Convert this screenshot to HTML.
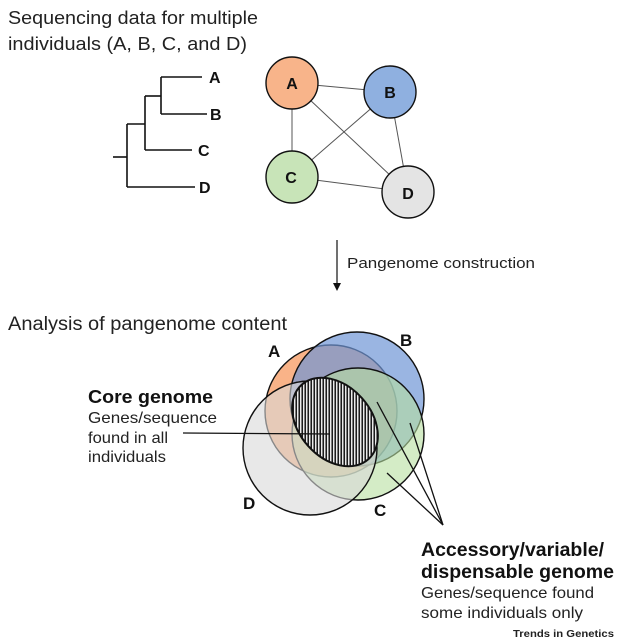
<!DOCTYPE html>
<html><head><meta charset="utf-8"><style>
body{margin:0;background:#fff;}
svg{display:block;font-family:"Liberation Sans",Arial,sans-serif;}
</style></head><body>
<svg width="629" height="643" viewBox="0 0 629 643" xmlns="http://www.w3.org/2000/svg">
<defs>
<pattern id="hatch" width="3" height="4" patternUnits="userSpaceOnUse" patternTransform="rotate(-48)">
<rect width="3" height="4" fill="#fff"/><rect width="1.6" height="4" fill="#111"/>
</pattern>
</defs>
<text x="8" y="24" font-size="18" fill="#222" textLength="250" lengthAdjust="spacingAndGlyphs">Sequencing data for multiple</text>
<text x="8" y="50" font-size="18" fill="#222" textLength="239" lengthAdjust="spacingAndGlyphs">individuals (A, B, C, and D)</text>
<g stroke="#111" stroke-width="1.6" fill="none">
<line x1="113" y1="157" x2="127" y2="157"/>
<line x1="127" y1="124" x2="127" y2="187"/>
<line x1="127" y1="187" x2="195" y2="187"/>
<line x1="127" y1="124" x2="145" y2="124"/>
<line x1="145" y1="96" x2="145" y2="150"/>
<line x1="145" y1="150" x2="192" y2="150"/>
<line x1="145" y1="96" x2="161" y2="96"/>
<line x1="161" y1="77" x2="161" y2="114"/>
<line x1="161" y1="77" x2="202" y2="77"/>
<line x1="161" y1="114" x2="207" y2="114"/>
</g>
<g font-size="16" font-weight="bold" fill="#111">
<text x="209" y="83">A</text><text x="210" y="120">B</text><text x="198" y="156">C</text><text x="199" y="193">D</text>
</g>
<g stroke="#555" stroke-width="1">
<line x1="292" y1="83" x2="390" y2="92"/><line x1="292" y1="83" x2="292" y2="177"/>
<line x1="292" y1="83" x2="408" y2="192"/><line x1="390" y1="92" x2="292" y2="177"/>
<line x1="390" y1="92" x2="408" y2="192"/><line x1="292" y1="177" x2="408" y2="192"/>
</g>
<g stroke="#111" stroke-width="1.4">
<circle cx="292" cy="83" r="26" fill="#f8b48a"/>
<circle cx="390" cy="92" r="26" fill="#8fb0e0"/>
<circle cx="292" cy="177" r="26" fill="#c8e4b8"/>
<circle cx="408" cy="192" r="26" fill="#e4e4e4"/>
</g>
<g font-size="16" font-weight="bold" fill="#111" text-anchor="middle">
<text x="292" y="89">A</text><text x="390" y="98">B</text><text x="291" y="183">C</text><text x="408" y="199">D</text>
</g>
<line x1="337" y1="240" x2="337" y2="283" stroke="#111" stroke-width="1.2"/>
<polygon points="333,283 341,283 337,291" fill="#111"/>
<text x="347" y="268" font-size="15" fill="#222" textLength="188" lengthAdjust="spacingAndGlyphs">Pangenome construction</text>
<text x="8" y="330" font-size="19" fill="#222" textLength="279" lengthAdjust="spacingAndGlyphs">Analysis of pangenome content</text>
<g stroke="#111" stroke-width="1.4">
<circle cx="331" cy="411" r="66" fill="#f7a06a" fill-opacity="0.8"/>
<circle cx="357" cy="399" r="67" fill="#6f95d6" fill-opacity="0.7"/>
<circle cx="358" cy="434" r="66" fill="#b8dfa0" fill-opacity="0.6"/>
<circle cx="310" cy="448" r="67" fill="#d8d8d8" fill-opacity="0.6"/>
<ellipse cx="335" cy="422" rx="50" ry="36" transform="rotate(48 335 422)" fill="url(#hatch)" stroke-width="2"/>
</g>
<g font-size="17" font-weight="bold" fill="#111">
<text x="268" y="357">A</text><text x="400" y="346">B</text><text x="374" y="516">C</text><text x="243" y="509">D</text>
</g>
<g stroke="#111" stroke-width="1.3">
<line x1="183" y1="433" x2="330" y2="434"/>
<line x1="443" y1="525" x2="377" y2="402"/>
<line x1="443" y1="525" x2="410" y2="423"/>
<line x1="443" y1="525" x2="387" y2="473"/>
</g>
<text x="88" y="403" font-size="18" font-weight="bold" fill="#111" textLength="125" lengthAdjust="spacingAndGlyphs">Core genome</text>
<g font-size="16" fill="#222">
<text x="88" y="423" textLength="129" lengthAdjust="spacingAndGlyphs">Genes/sequence</text><text x="88" y="443" textLength="80" lengthAdjust="spacingAndGlyphs">found in all</text><text x="88" y="462" textLength="78" lengthAdjust="spacingAndGlyphs">individuals</text>
</g>
<text x="421" y="556" font-size="19" font-weight="bold" fill="#111" textLength="183" lengthAdjust="spacingAndGlyphs">Accessory/variable/</text>
<text x="421" y="578" font-size="19" font-weight="bold" fill="#111" textLength="193" lengthAdjust="spacingAndGlyphs">dispensable genome</text>
<text x="421" y="598" font-size="16" fill="#222" textLength="173" lengthAdjust="spacingAndGlyphs">Genes/sequence found</text>
<text x="421" y="618" font-size="16" fill="#222" textLength="162" lengthAdjust="spacingAndGlyphs">some individuals only</text>
<text x="513" y="637" font-size="10" font-weight="bold" fill="#222" textLength="101" lengthAdjust="spacingAndGlyphs">Trends in Genetics</text>
</svg>
</body></html>
